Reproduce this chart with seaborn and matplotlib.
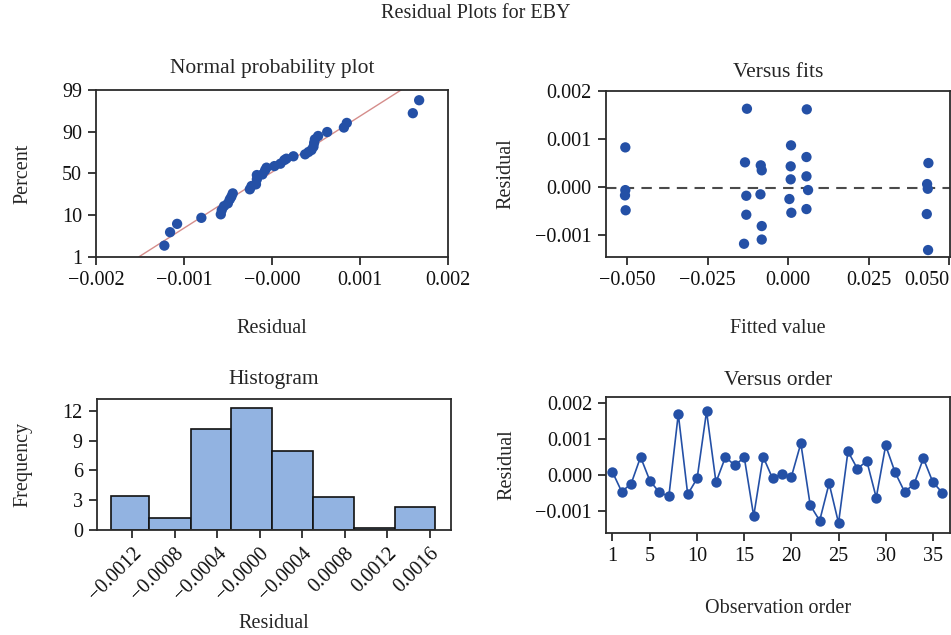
import numpy as np
import pandas as pd
import matplotlib
matplotlib.use("Agg")
import matplotlib.pyplot as plt
from matplotlib.ticker import FuncFormatter, FixedLocator
import seaborn as sns

# ---------------- data ----------------
# Normal probability plot: residual (sorted) and plotted percent
npp_resid = [-0.001222, -0.001157, -0.001077, -0.000801,
             -0.000580, -0.000569, -0.000543, -0.000500, -0.000478, -0.000460, -0.000444,
             -0.000250, -0.000230, -0.000180, -0.000170, -0.000170,
             -0.000107, -0.000076, -0.000060, 0.000030,
             0.000098, 0.000143, 0.000166, 0.000246, 0.000379, 0.000417, 0.000451,
             0.000474, 0.000482, 0.000490, 0.000527, 0.000630, 0.000820, 0.000853,
             0.001604, 0.001676]
npp_pct = [3.4, 6.3, 8.1, 9.4,
           10.7, 14.8, 18.6, 21.2, 25.0, 27.6, 30.8,
           34.7, 37.9, 39.5, 44.3, 48.4,
           49.0, 53.0, 55.5, 57.0,
           59.3, 62.8, 64.1, 66.4, 68.3, 70.5, 72.4,
           75.6, 79.4, 82.7, 85.9, 89.7, 90.9, 91.9,
           94.0, 96.8]
pct_ticks = [1, 10, 50, 90, 99]
# fitted reference line end points (residual at 1 % and at 99 %)
fit_line_resid = [-0.00151, 0.00147]

# Versus fits
fits_x = [-0.0506, -0.0506, -0.0507, -0.0505,
          -0.0128, -0.0134, -0.0130, -0.0130, -0.0137,
          -0.0085, -0.0082, -0.0086, -0.0082, -0.0082,
          0.0009, 0.0008, 0.0008, 0.0004, 0.0010,
          0.0058, 0.0057, 0.0057, 0.0062, 0.0057,
          0.0436, 0.0432, 0.0434, 0.0431, 0.0435]
fits_resid = [0.00082, -0.00007, -0.00018, -0.00049,
              0.001625, 0.000508, -0.000188, -0.000583, -0.001188,
              0.000446, 0.000342, -0.000158, -0.000819, -0.00110,
              0.000862, 0.000425, 0.000154, -0.000256, -0.000542,
              0.001612, 0.000619, 0.000217, -0.000069, -0.000465,
              0.000494, 0.000056, -0.000042, -0.000569, -0.001319]
ref_level = -0.00003

# Histogram
hist_edges = [-0.00140, -0.00104, -0.000645, -0.000267, 0.000113,
              0.000504, 0.000890, 0.001273, 0.001652]
hist_heights = [3.39, 1.24, 10.19, 12.3, 7.98, 3.32, 0.2, 2.31]
hist_ticks = [-0.0012, -0.0008, -0.0004, 0.0, 0.0004, 0.0008, 0.0012, 0.0016]
hist_ticklabels = ["\u22120.0012", "\u22120.0008", "\u22120.0004", "\u22120.0000",
                   "\u22120.0004", "0.0008", "0.0012", "0.0016"]

# Versus order
order_resid = [0.000102, -0.000454, -0.000231, 0.000509, -0.000157, -0.000472,
               -0.000583, 0.001704, -0.000528, -0.000083, 0.001778, -0.000194,
               0.000509, 0.000278, 0.000500, -0.001130, 0.000519, -0.000083,
               0.000046, -0.000037, 0.000889, -0.000833, -0.001259, -0.000222,
               -0.001324, 0.000667, 0.000185, 0.000398, -0.000620, 0.000833,
               0.000083, -0.000454, -0.000250, 0.000472, -0.000185, -0.000481]
order_ticks = [1, 5, 10, 15, 20, 25, 30, 35]

npp_xticks = [-0.002, -0.001, 0.0, 0.001, 0.002]
npp_xticklabels = ["\u22120.002", "\u22120.001", "\u22120.000", "0.001", "0.002"]

# ---------------- style ----------------
sns.set_theme(style="ticks")
plt.rcParams["font.family"] = ["Liberation Serif", "DejaVu Serif"]
plt.rcParams["axes.unicode_minus"] = True
FS = 14.5
FT = 15.5
BLUE = "#2450a6"
SPINE = "#2b2b2b"

fig = plt.figure(figsize=(9.51, 6.35), dpi=100)
fig.patch.set_facecolor("white")

ax1 = fig.add_axes([0.1009, 0.5957, 0.3698, 0.2625])
ax2 = fig.add_axes([0.6369, 0.5957, 0.3620, 0.2614])
ax3 = fig.add_axes([0.1017, 0.1654, 0.3722, 0.2058])
ax4 = fig.add_axes([0.6372, 0.1611, 0.3617, 0.2132])

def minus_fmt(fmt):
    return FuncFormatter(lambda v, p: (fmt % v).replace("-", "\u2212"))

def style(ax):
    for s in ax.spines.values():
        s.set_visible(True)
        s.set_color(SPINE)
        s.set_linewidth(1.3)
    ax.tick_params(axis="both", direction="out", length=6, width=1.3,
                   color=SPINE, labelsize=FS, labelcolor="#111111", pad=4)
    ax.set_facecolor("white")
    ax.grid(False)

# ---------- Normal probability plot ----------
u_pos = list(range(len(pct_ticks)))
fwd = lambda p: np.interp(p, pct_ticks, u_pos)
inv = lambda u: np.interp(u, u_pos, pct_ticks)
ax1.set_yscale("function", functions=(fwd, inv))

# straight fitted line on the probability axis, from 1 % to 99 %
xg = np.linspace(fit_line_resid[0], fit_line_resid[1], 400)
ug = (xg - fit_line_resid[0]) / (fit_line_resid[1] - fit_line_resid[0]) * u_pos[-1]
line_df = pd.DataFrame({"x": xg, "p": inv(ug)})
sns.lineplot(data=line_df, x="x", y="p", ax=ax1, color="#d58d8b", lw=1.0,
             sort=False, estimator=None)
npp_df = pd.DataFrame({"resid": npp_resid, "pct": npp_pct})
sns.scatterplot(data=npp_df, x="resid", y="pct", ax=ax1, color=BLUE, s=55,
                edgecolor="none", zorder=3)
ax1.set_xlim(-0.002, 0.002)
ax1.set_ylim(1, 99)
ax1.yaxis.set_major_locator(FixedLocator(pct_ticks))
ax1.yaxis.set_minor_locator(FixedLocator([]))
ax1.set_yticklabels([str(t) for t in pct_ticks])
ax1.set_xticks(npp_xticks)
ax1.set_xticklabels(npp_xticklabels)
style(ax1)
ax1.set_title("Normal probability plot", fontsize=FT, pad=12)
ax1.set_xlabel("Residual", fontsize=FS, labelpad=21)
ax1.set_ylabel("Percent", fontsize=FS, labelpad=21)

# ---------- Versus fits ----------
fits_df = pd.DataFrame({"fit": fits_x, "resid": fits_resid})
sns.scatterplot(data=fits_df, x="fit", y="resid", ax=ax2, color=BLUE, s=55,
                edgecolor="none", zorder=3)
ax2.axhline(ref_level, color="#4a4a4a", lw=1.5, ls=(0, (5, 3.5)), zorder=2)
ax2.set_xlim(-0.0567, 0.0503)
ax2.set_ylim(-0.001458, 0.002)
ax2.set_xticks([-0.05, -0.025, 0.0, 0.025, 0.05])
ax2.set_yticks([-0.001, 0.0, 0.001, 0.002])
ax2.xaxis.set_major_formatter(minus_fmt("%.3f"))
ax2.yaxis.set_major_formatter(minus_fmt("%.3f"))
style(ax2)
fig.canvas.draw()
ax2.get_xticklabels()[-1].set_horizontalalignment("right")
ax2.set_title("Versus fits", fontsize=FT, pad=10)
ax2.set_xlabel("Fitted value", fontsize=FS, labelpad=21)
ax2.set_ylabel("Residual", fontsize=FS, labelpad=14)

# ---------- Histogram ----------
edges = np.array(hist_edges)
centers = (edges[:-1] + edges[1:]) / 2
hist_df = pd.DataFrame({"resid": centers, "w": hist_heights})
sns.histplot(data=hist_df, x="resid", weights="w", bins=hist_edges, ax=ax3,
             color="#92b3e1", edgecolor="#111111", linewidth=1.2, alpha=1.0)
ax3.set_xlim(-0.001532, 0.001798)
ax3.set_ylim(0, 13.15)
ax3.set_yticks([0, 3, 6, 9, 12])
ax3.set_xticks(hist_ticks)
ax3.set_xticklabels(hist_ticklabels, rotation=45, ha="right",
                    rotation_mode="anchor")
style(ax3)
ax3.set_title("Histogram", fontsize=FT, pad=11)
ax3.set_xlabel("Residual", fontsize=FS, labelpad=7)
ax3.set_ylabel("Frequency", fontsize=FS, labelpad=22)

# ---------- Versus order ----------
order_df = pd.DataFrame({"obs": np.arange(1, len(order_resid) + 1),
                         "resid": order_resid})
sns.lineplot(data=order_df, x="obs", y="resid", ax=ax4, color=BLUE, lw=1.2,
             marker="o", markersize=7.5, markeredgewidth=0, markerfacecolor=BLUE)
ax4.set_xlim(0.33, 36.82)
ax4.set_ylim(-0.001594, 0.00217)
ax4.set_xticks(order_ticks)
ax4.set_yticks([-0.001, 0.0, 0.001, 0.002])
ax4.yaxis.set_major_formatter(minus_fmt("%.3f"))
style(ax4)
ax4.set_title("Versus order", fontsize=FT, pad=9)
ax4.set_xlabel("Observation order", fontsize=FS, labelpad=24)
ax4.set_ylabel("Residual", fontsize=FS, labelpad=14)

fig.text(0.5, 0.978, "Residual Plots for EBY", ha="center", va="center",
         fontsize=FS)

fig.savefig("out.png", dpi=100, facecolor="white")
